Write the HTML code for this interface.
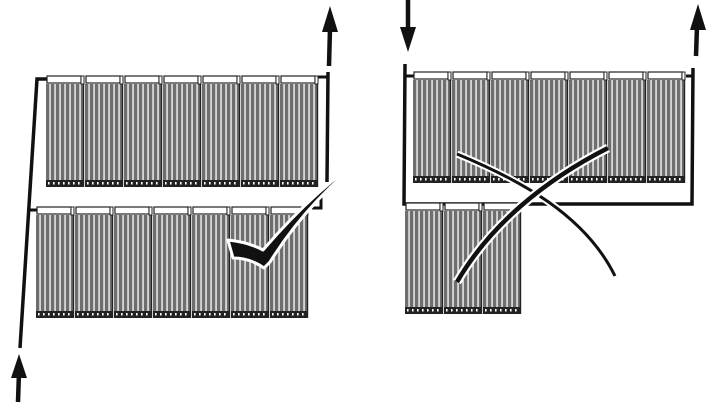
<!DOCTYPE html>
<html><head><meta charset="utf-8"><style>html,body{margin:0;padding:0;background:#fff}svg{display:block}</style></head>
<body>
<svg width="728" height="412" viewBox="0 0 728 412" xmlns="http://www.w3.org/2000/svg">
<defs>
<pattern id="t" width="5" height="10" patternUnits="userSpaceOnUse">
<rect width="5" height="10" fill="#6e6e6e"/><rect x="3.4" width="1.3" height="10" fill="#fff"/>
</pattern>
<pattern id="m" width="5" height="8" patternUnits="userSpaceOnUse">
<rect width="5" height="8" fill="#222"/><rect x="2" y="2" width="1.6" height="2.5" fill="#fff"/>
</pattern>
<g id="mod">
<rect x="0" y="8" width="38" height="102" fill="url(#t)"/>
<rect x="0" y="104" width="38" height="7" fill="url(#m)"/>
<rect x="1" y="0" width="34" height="7" fill="#fff" stroke="#222" stroke-width="1.2"/>
<rect x="35" y="0" width="3" height="8" fill="#fff" stroke="#222" stroke-width="1"/>
<line x1="37.5" y1="8" x2="37.5" y2="111" stroke="#222" stroke-width="1.4"/>
</g>
</defs>
<g fill="none" stroke="#111" stroke-linecap="butt">
<polyline points="48,79 37,79 20,348" stroke-width="3.5"/>
<polyline points="40,210 30,210" stroke-width="3"/>
<polyline points="318,77 328,77" stroke-width="3"/>
<line x1="328" y1="72" x2="327" y2="182" stroke-width="3.5"/>
<polyline points="312,208 321,208 321,196" stroke-width="3"/>
<line x1="330" y1="28" x2="329" y2="66" stroke-width="4.5"/>
<line x1="19" y1="372" x2="18" y2="402" stroke-width="4.5"/>
<polyline points="405,64 404,204 692,204 693,68" stroke-width="3.5"/>
<polyline points="404,76 414,76" stroke-width="3"/>
<polyline points="686,76 693,76" stroke-width="3"/>
<line x1="408" y1="0" x2="408" y2="30" stroke-width="4.5"/>
<line x1="697" y1="26" x2="696" y2="56" stroke-width="4.5"/>
</g>
<polygon points="330,6 322,32 338,32" fill="#111"/>
<polygon points="19,354 11,378 27,378" fill="#111"/>
<polygon points="408,52 400,27 416,27" fill="#111"/>
<polygon points="698,4 690,30 706,30" fill="#111"/>
<g transform="translate(46,76)"><use href="#mod" x="0"/><use href="#mod" x="39"/><use href="#mod" x="78"/><use href="#mod" x="117"/><use href="#mod" x="156"/><use href="#mod" x="195"/><use href="#mod" x="234"/></g>
<g transform="translate(36,207)"><use href="#mod" x="0"/><use href="#mod" x="39"/><use href="#mod" x="78"/><use href="#mod" x="117"/><use href="#mod" x="156"/><use href="#mod" x="195"/><use href="#mod" x="234"/></g>
<g transform="translate(413,72)"><use href="#mod" x="0"/><use href="#mod" x="39"/><use href="#mod" x="78"/><use href="#mod" x="117"/><use href="#mod" x="156"/><use href="#mod" x="195"/><use href="#mod" x="234"/></g>
<g transform="translate(405,203)"><use href="#mod" x="0"/><use href="#mod" x="39"/><use href="#mod" x="78"/></g>
<!-- checkmark -->
<path d="M228,240 L233,258 Q250,258 264,268 L270,262 Q310,198 372,152 Q318,186 263,250 Q248,242 228,240 Z" fill="#111" stroke="#fff" stroke-width="3" stroke-linejoin="round"/>
<!-- X -->
<path d="M457,154 C520,180 585,215 615,276" fill="none" stroke="#fff" stroke-width="7"/>
<path d="M457,154 C520,180 585,215 615,276" fill="none" stroke="#111" stroke-width="3"/>
<path d="M608,148 C545,180 490,225 457,282" fill="none" stroke="#fff" stroke-width="9"/>
<path d="M608,148 C545,180 490,225 457,282" fill="none" stroke="#111" stroke-width="4.5"/>
</svg>
</body></html>
